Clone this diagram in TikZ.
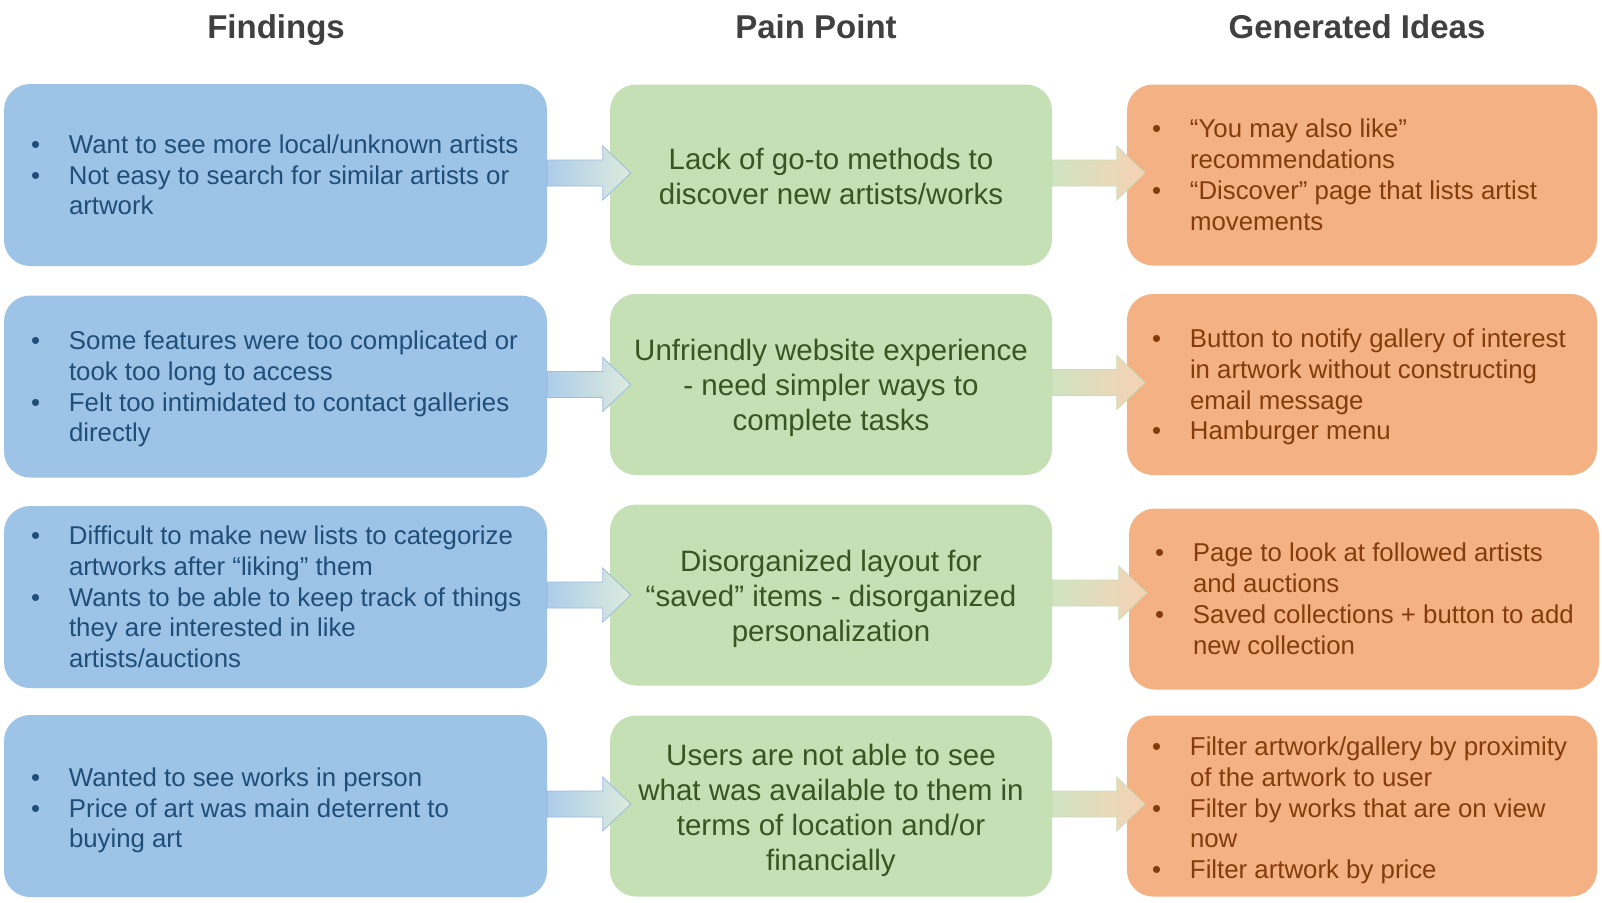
\documentclass[tikz,border=0pt]{standalone}
\usepackage{fontspec}
\setmainfont{Liberation Sans}
\usetikzlibrary{calc}
\definecolor{bluebox}{HTML}{9DC3E6}
\definecolor{greenbox}{HTML}{C5E0B4}
\definecolor{orangebox}{HTML}{F4B183}
\definecolor{bluetext}{HTML}{1F4E79}
\definecolor{greentext}{HTML}{375623}
\definecolor{orangetext}{HTML}{843C0C}
\definecolor{headtext}{HTML}{404040}
\definecolor{bArrL}{HTML}{ADCDEA}
\definecolor{bArrR}{HTML}{DDEBDD}
\definecolor{bArrB}{HTML}{9DBBDC}
\definecolor{oArrL}{HTML}{CFE4C2}
\definecolor{oArrR}{HTML}{F7D2B4}
\definecolor{oArrB}{HTML}{CADDB8}
\newcommand\blst[1]{\begin{tabular}{@{}p{38pt}@{}l@{}}#1\end{tabular}}
\newcommand\fatarrow[5]{%
  \path[#3] let \p1=(#1.east), \p2=(#2.west) in
    (\x1,\y1+15pt) -- (\x2#5pt,\y1+15pt) -- (\x2#5pt,\y1+29pt) -- (\x2#4pt,\y1+2pt)
    -- (\x2#5pt,\y1-25pt) -- (\x2#5pt,\y1-11pt) -- (\x1,\y1-11pt) -- cycle;}
\begin{document}
\begin{tikzpicture}[x=1pt,y=-1pt,
  box/.style={rounded corners=26pt, inner sep=0pt, draw=none},
  bbox/.style={box, fill=bluebox, minimum width=543pt, minimum height=182pt},
  gbox/.style={box, fill=greenbox, minimum width=442pt, minimum height=181pt},
  gtext/.style={inner sep=0pt, align=center, text=greentext, font=\fontsize{29.5}{35}\selectfont},
  obox/.style={box, fill=orangebox, minimum width=470pt, minimum height=181pt},
  btext/.style={anchor=west, inner sep=0pt, text=bluetext, font=\fontsize{25.8}{30.8}\selectfont},
  otext/.style={anchor=west, inner sep=0pt, text=orangetext, font=\fontsize{25.8}{30.8}\selectfont},
  head/.style={anchor=base, inner sep=0pt, text=headtext, font=\fontsize{33}{38}\selectfont\bfseries},
  barrow/.style={left color=bArrL, right color=bArrR, draw=bArrB, line width=0.8pt},
  oarrow/.style={left color=oArrL, right color=oArrR, draw=oArrB, line width=0.8pt}]
\useasboundingbox (0,0) rectangle (1602,902);

% headers
\node[head] (h1) at (276,38) {Findings};
\node[head] (h2) at (816,38) {Pain Point};
\node[head] (h3) at (1357,38) {Generated Ideas};

% boxes
\node[bbox] (b1) at (275.5,175) {};
\node[gbox] (g1) at (831,175) {};
\node[obox] (o1) at (1362,175) {};
\node[bbox] (b2) at (275.5,386.5) {};
\node[gbox] (g2) at (831,384.5) {};
\node[obox] (o2) at (1362,384.5) {};
\node[bbox] (b3) at (275.5,597) {};
\node[gbox] (g3) at (831,595) {};
\node[obox] (o3) at (1364,599) {};
\node[bbox] (b4) at (275.5,806) {};
\node[gbox] (g4) at (831,806) {};
\node[obox] (o4) at (1362,806) {};

% green texts
\node[gtext] (gt1) at ($(g1.center)+(0,1)$) {Lack of go-to methods to\\discover new artists/works};
\node[gtext] (gt2) at ($(g2.center)+(0,3.5)$) {Unfriendly website experience\\- need simpler ways to\\complete tasks};
\node[gtext] (gt3) at ($(g3.center)+(0,4)$) {Disorganized layout for\\“saved” items - disorganized\\personalization};
\node[gtext] (gt4) at ($(g4.center)+(0,4)$) {Users are not able to see\\what was available to them in\\terms of location and/or\\financially};

% blue texts
\node[btext] (bt1) at ($(b1.west)+(27,3)$) {\blst{\textbullet & Want to see more local/unknown artists\\
 \textbullet & Not easy to search for similar artists or\\ & artwork}};
\node[btext] (bt2) at ($(b2.west)+(27,3)$) {\blst{\textbullet & Some features were too complicated or\\
 & took too long to access\\ \textbullet & Felt too intimidated to contact galleries\\ & directly}};
\node[btext] (bt3) at ($(b3.west)+(27,3)$) {\blst{\textbullet & Difficult to make new lists to categorize\\
 & artworks after “liking” them\\ \textbullet & Wants to be able to keep track of things\\ & they are interested in like\\ & artists/auctions}};
\node[btext] (bt4) at ($(b4.west)+(27,5)$) {\blst{\textbullet & Wanted to see works in person\\
 \textbullet & Price of art was main deterrent to\\ & buying art}};

% orange texts
\node[otext] (ot1) at ($(o1.west)+(25,3)$) {\blst{\textbullet & “You may also like”\\ & recommendations\\
 \textbullet & “Discover” page that lists artist\\ & movements}};
\node[otext] (ot2) at ($(o2.west)+(25,3)$) {\blst{\textbullet & Button to notify gallery of interest\\ & in artwork without constructing\\
 & email message\\ \textbullet & Hamburger menu}};
\node[otext] (ot3) at ($(o3.west)+(26,3)$) {\blst{\textbullet & Page to look at followed artists\\ & and auctions\\
 \textbullet & Saved collections + button to add\\ & new collection}};
\node[otext] (ot4) at ($(o4.west)+(25,5)$) {\blst{\textbullet & Filter artwork/gallery by proximity\\ & of the artwork to user\\
 \textbullet & Filter by works that are on view\\ & now\\ \textbullet & Filter artwork by price}};

% arrows
\fatarrow{b1}{g1}{barrow}{+21}{-7}
\fatarrow{b2}{g2}{barrow}{+21}{-7}
\fatarrow{b3}{g3}{barrow}{+21}{-7}
\fatarrow{b4}{g4}{barrow}{+21}{-7}
\fatarrow{g1}{o1}{oarrow}{+18}{-10}
\fatarrow{g2}{o2}{oarrow}{+18}{-10}
\fatarrow{g3}{o3}{oarrow}{+18}{-10}
\fatarrow{g4}{o4}{oarrow}{+18}{-10}
\end{tikzpicture}
\end{document}
